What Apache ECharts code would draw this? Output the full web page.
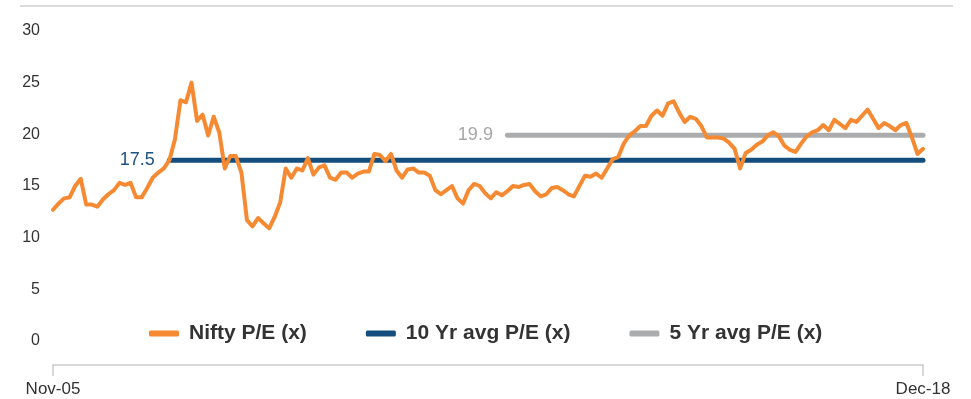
<!DOCTYPE html>
<html>
<head>
<meta charset="utf-8">
<script src="https://cdn.jsdelivr.net/npm/echarts@6/dist/echarts.min.js"></script>
<style>
  html, body { margin: 0; padding: 0; background: #fff; }
  #chart { width: 971px; height: 399px; }
</style>
</head>
<body>
<div id="chart"></div>
<script>
// monthly Nifty P/E, Nov-05 .. Dec-18
const peValues = [
  12.7, 13.3, 13.8, 13.9, 15.0, 15.7, 13.2, 13.2, 13.0, 13.7,
  14.2, 14.6, 15.3, 15.1, 15.3, 13.9, 13.9, 14.8, 15.8, 16.3,
  16.7, 17.5, 19.5, 23.3, 23.1, 25.0, 21.3, 21.9, 19.9, 21.7,
  20.2, 16.7, 17.9, 17.9, 16.3, 11.7, 11.1, 11.9, 11.4, 10.9,
  12.0, 13.4, 16.7, 15.8, 16.7, 16.5, 17.7, 16.1, 16.8, 17.0,
  15.8, 15.6, 16.3, 16.3, 15.8, 16.2, 16.4, 16.4, 18.1, 18.0,
  17.4, 18.1, 16.5, 15.8, 16.6, 16.7, 16.3, 16.3, 16.0, 14.6,
  14.2, 14.6, 15.0, 13.8, 13.3, 14.6, 15.2, 15.0, 14.3, 13.8,
  14.4, 14.1, 14.5, 15.0, 14.9, 15.1, 15.2, 14.5, 14.0, 14.2,
  14.8, 14.9, 14.6, 14.2, 14.0, 15.0, 16.0, 15.9, 16.2, 15.8,
  16.7, 17.6, 17.8, 19.1, 19.9, 20.3, 20.8, 20.8, 21.8, 22.3,
  21.8, 23.0, 23.2, 22.1, 21.2, 21.7, 21.5, 20.8, 19.7, 19.7,
  19.7, 19.6, 19.2, 18.6, 16.7, 18.2, 18.5, 19.0, 19.3, 19.9,
  20.2, 19.8, 18.9, 18.5, 18.3, 19.1, 19.8, 20.2, 20.4, 20.9,
  20.4, 21.4, 21.0, 20.6, 21.4, 21.2, 21.8, 22.4, 21.5, 20.6,
  21.1, 20.8, 20.4, 20.9, 21.1, 19.7, 18.1, 18.6
];

const monthNames = ["Jan", "Feb", "Mar", "Apr", "May", "Jun", "Jul", "Aug", "Sep", "Oct", "Nov", "Dec"];
const startYear = 2005;
const startMonth = 10; // Nov

const avg10 = 17.5;
const avg10Start = 21;
const avg5 = 19.9;
const avg5Start = 82;

const seriesNames = ["Nifty P/E (x)", "10 Yr avg P/E (x)", "5 Yr avg P/E (x)"];
const yTicks = [0, 5, 10, 15, 20, 25, 30];

// month labels like Nov-05
const categories = peValues.map((v, i) => {
  const m = startMonth + i;
  const y = startYear + Math.floor(m / 12);
  return monthNames[m % 12] + "-" + String(y).slice(2);
});
const lastIdx = categories.length - 1;
const shown = (idx) => idx === 0 || idx === lastIdx;

// flat average line, label only on its first point
function avgLine(startIdx, value, labelColor) {
  return [
    {
      value: [categories[startIdx], value],
      label: { show: true, position: "left", distance: 14, color: labelColor, fontSize: 18, formatter: String(value) }
    },
    { value: [categories[lastIdx], value] }
  ];
}

const chart = echarts.init(document.getElementById("chart"));

const option = {
  animation: false,
  textStyle: { fontFamily: "Liberation Sans, Arial, sans-serif" },
  graphic: [
    {
      type: "line",
      shape: { x1: 20, y1: 6, x2: 953, y2: 6 },
      style: { stroke: "#cfcfcf", lineWidth: 1.5 }
    }
  ],
  grid: { left: 53, right: 48, top: 31, bottom: 58 },
  legend: {
    left: 144,
    top: 318,
    itemGap: 59,
    itemWidth: 30,
    itemHeight: 6,
    icon: "roundRect",
    textStyle: { fontSize: 21, fontWeight: "bold", color: "#333333", padding: [0, 0, 0, 5] },
    data: seriesNames
  },
  xAxis: {
    type: "category",
    data: categories,
    boundaryGap: false,
    offset: 24,
    axisLine: { onZero: false, lineStyle: { color: "#cccccc", width: 1.5 } },
    axisTick: { show: true, interval: (idx) => shown(idx), length: 11, lineStyle: { color: "#cccccc", width: 1.5 } },
    axisLabel: { interval: (idx) => shown(idx), fontSize: 17, color: "#333333", margin: 16 },
    splitLine: { show: false }
  },
  yAxis: {
    type: "value",
    min: yTicks[0],
    max: yTicks[yTicks.length - 1],
    interval: 5,
    axisLine: { show: false },
    axisTick: { show: false },
    splitLine: { show: false },
    axisLabel: { fontSize: 16, color: "#333333", margin: 13 }
  },
  series: [
    {
      name: seriesNames[0],
      type: "line",
      data: peValues,
      symbol: "none",
      color: "#f58a33",
      lineStyle: { width: 4, color: "#f58a33", cap: "round", join: "round" },
      z: 3
    },
    {
      name: seriesNames[1],
      type: "line",
      data: avgLine(avg10Start, avg10, "#1d5283"),
      symbol: "circle",
      symbolSize: 1,
      color: "#134e7e",
      lineStyle: { width: 5, color: "#134e7e", cap: "round" },
      z: 2
    },
    {
      name: seriesNames[2],
      type: "line",
      data: avgLine(avg5Start, avg5, "#a6a7a9"),
      symbol: "circle",
      symbolSize: 1,
      color: "#abacae",
      lineStyle: { width: 5, color: "#abacae", cap: "round" },
      z: 1
    }
  ]
};

chart.setOption(option);
</script>
</body>
</html>
